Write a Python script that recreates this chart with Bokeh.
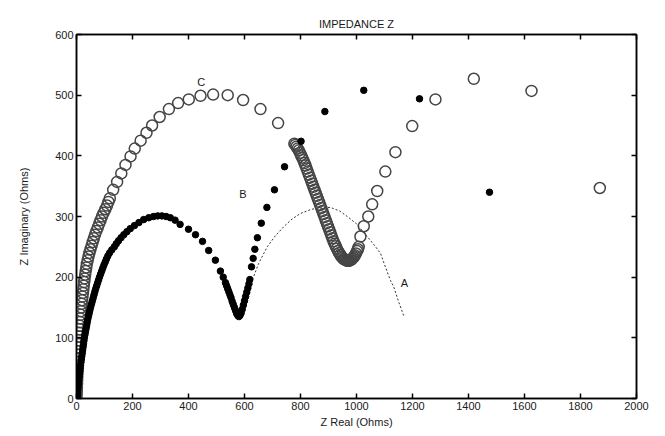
from bokeh.plotting import figure
from bokeh.models import LinearAxis, Range1d, FixedTicker, ColumnDataSource
from bokeh.core.properties import value
from bokeh.embed import file_html
from bokeh.resources import INLINE

# ---- data ----
# Curve C : open circles (dense near the origin and in the second dip)
c_real = [0, 0.5, 1, 1.5, 2, 2.5, 3, 3.5, 4, 4.5, 5, 5.5, 6, 6.5, 7, 7.5, 8, 9, 10, 11, 12, 13, 14,
          15, 16, 17, 18.5, 20, 21.5, 23, 24.5, 26, 27.5, 29, 31, 33, 35, 37, 40, 43, 46, 50, 54,
          58, 62, 66, 71, 76, 81, 86, 91, 97, 103, 109, 114,
          119, 131, 145, 160, 175, 193, 208, 229, 250, 270, 297, 330, 363, 401, 443, 488, 540,
          595, 657, 720,
          778, 782, 786, 790, 794, 798, 802, 806, 810, 814, 818, 822, 826, 830, 834, 838, 842,
          846, 850, 854, 858, 862, 866, 870, 874, 878, 882, 886, 890, 894, 898, 902, 906, 910,
          914, 918, 922, 926, 930, 934, 938, 942, 946, 950, 954, 958, 962, 966, 970, 974, 978,
          982, 986, 990, 994, 998, 1002, 1005, 1008,
          1014, 1026, 1042, 1056, 1074, 1103, 1139, 1199, 1282, 1419, 1625, 1869]
c_imag = [0, 6, 12, 18, 24, 30, 36, 42, 48, 54, 60, 66, 72, 78, 84, 90, 96, 102, 108, 114, 120, 126,
          132, 138, 144, 150, 156, 162, 168, 174, 180, 186, 192, 198, 204, 210, 216, 222, 228, 234,
          240, 246, 252, 258, 264, 270, 276, 282, 288, 294, 300, 306, 312, 318, 324,
          330, 344, 357, 371, 385, 399, 412, 425, 438, 450, 464, 477, 487, 493, 499, 501, 500,
          492, 477, 454,
          420, 418, 415, 412, 409, 405, 401, 397, 393, 388, 384, 379, 374, 369, 364, 359, 354,
          349, 344, 339, 334, 329, 324, 319, 314, 309, 304, 299, 294, 289, 284, 279, 274, 269,
          264, 259, 255, 251, 247, 243, 240, 237, 234, 232, 230, 229, 228, 227, 227, 227, 228,
          229, 231, 233, 236, 239, 243, 246, 250,
          267, 284, 300, 320, 342, 374, 406, 449, 493, 527, 507, 347]

# Curve B : filled dots
b_real = [3, 3.5, 4, 5, 6, 7, 8, 9.5, 11, 12, 13, 14.5, 16, 17.5, 19, 20.5, 22, 23.5, 25, 26.5, 28,
          30, 32, 34, 36, 38, 40, 42.5, 45, 47.5, 50, 53, 56, 59, 62, 65, 68, 71.5, 75, 78.5, 82,
          86, 90, 94, 98, 102.5, 107, 112, 118, 126, 135, 142, 150, 159, 169, 180, 192, 207, 223,
          240, 258, 275, 290, 305, 320, 335, 352,
          370, 400, 425, 450, 472, 496, 514,
          524, 532, 536, 540, 544, 548, 552, 556, 560, 564, 568, 572, 576, 580, 584, 588, 592,
          596, 600, 604, 608, 612, 616, 619,
          625, 631, 637, 646, 660, 680, 707, 743, 802, 887, 1026, 1225, 1475]
b_imag = [0, 5, 10, 15, 20, 25, 30, 35, 40, 45, 50, 55, 60, 65, 70, 75, 80, 85, 90, 95, 100, 105,
          110, 115, 120, 125, 130, 135, 140, 145, 150, 155, 160, 165, 170, 175, 180, 185, 190, 195,
          200, 205, 210, 215, 220, 225, 230, 235, 240, 245, 250, 255, 260, 265, 270, 275, 280, 285,
          290, 295, 298, 300, 301, 301, 300, 298, 294,
          287, 279, 270, 259, 244, 228, 210,
          200, 191, 186, 181, 176, 171, 166, 160, 155, 150, 145, 140, 137, 135, 137, 141, 147,
          154, 161, 168, 175, 182, 189, 196,
          217, 231, 246, 265, 289, 315, 344, 382, 424, 473, 508, 494, 340]

# Curve A : dashed line
a_real = [585, 600, 621, 650, 681, 710, 740, 770, 800, 840, 871, 907, 940, 967, 1000, 1038, 1065,
          1086, 1103, 1121, 1133, 1150, 1169]
a_imag = [140, 165, 187, 222, 250, 268, 283, 296, 305, 312, 314, 315, 309, 300, 288, 267, 252,
          239, 217, 195, 184, 160, 136]

# curve labels
lab_text = ["A", "B", "C"]
lab_x = [1171, 594, 445]
lab_y = [190, 337, 522]

x_ticks = [0, 200, 400, 600, 800, 1000, 1200, 1400, 1600, 1800, 2000]
y_ticks = [0, 100, 200, 300, 400, 500, 600]

FONT = "Liberation Sans"
INK = "#1a1a1a"

p = figure(width=665, height=436, output_backend="svg", toolbar_location=None,
           x_range=Range1d(0, 2000), y_range=Range1d(0, 600),
           min_border_left=76, min_border_right=29, min_border_top=34, min_border_bottom=38,
           title="IMPEDANCE Z")
p.background_fill_color = "white"
p.border_fill_color = "white"
p.grid.visible = False
p.outline_line_color = "black"
p.outline_line_width = 1.5

p.title.align = "center"
p.title.text_font = FONT
p.title.text_font_size = "11px"
p.title.text_font_style = "normal"
p.title.text_color = INK
p.title.offset = 0

for ax, ticks in ((p.xaxis[0], x_ticks), (p.yaxis[0], y_ticks)):
    ax.ticker = FixedTicker(ticks=ticks)
    ax.major_tick_in = 5
    ax.major_tick_out = 0
    ax.minor_tick_line_color = None
    ax.axis_line_width = 1.5
    ax.major_tick_line_width = 1.5
    ax.major_label_text_font = FONT
    ax.major_label_text_font_size = "11px"
    ax.major_label_text_color = INK
    ax.axis_label_text_font = FONT
    ax.axis_label_text_font_size = "11px"
    ax.axis_label_text_font_style = "normal"
    ax.axis_label_text_color = INK
    ax.major_label_standoff = 3

p.xaxis.axis_label = "Z Real (Ohms)"
p.xaxis.axis_label_standoff = 3
p.yaxis.axis_label = "Z Imaginary (Ohms)"
p.yaxis.axis_label_standoff = 22

top = LinearAxis(ticker=FixedTicker(ticks=x_ticks), major_label_text_color=None,
                 major_tick_in=5, major_tick_out=0, minor_tick_line_color=None,
                 axis_line_width=1.5, major_tick_line_width=1.5, major_label_standoff=0)
right = LinearAxis(ticker=FixedTicker(ticks=y_ticks), major_label_text_color=None,
                   major_tick_in=5, major_tick_out=0, minor_tick_line_color=None,
                   axis_line_width=1.5, major_tick_line_width=1.5, major_label_standoff=0)
p.add_layout(top, "above")
p.add_layout(right, "right")

p.line(a_real, a_imag, line_color="#333333", line_width=1, line_dash="2 2")
p.scatter(c_real, c_imag, marker="circle", size=11, fill_color=None,
          line_color="#454545", line_width=1.5)
p.scatter(b_real, b_imag, marker="circle", size=6.5, fill_color="black", line_color="black")

src = ColumnDataSource(dict(x=lab_x, y=lab_y, t=lab_text))
p.text(x="x", y="y", text="t", source=src, text_font=value(FONT), text_font_size="11px",
       text_color=INK, text_align="center", text_baseline="middle")

open("out.html", "w").write(file_html(p, INLINE))
